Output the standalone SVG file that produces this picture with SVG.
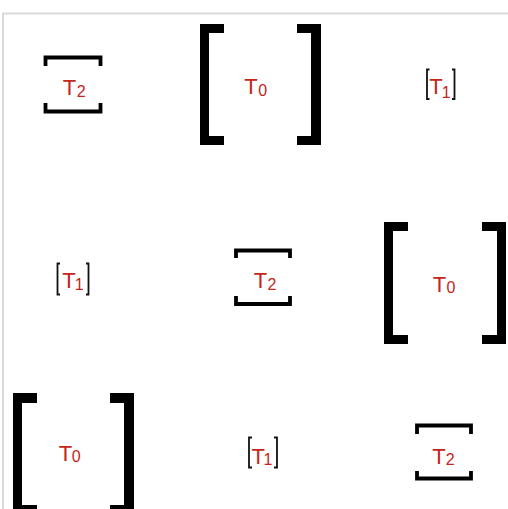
<svg xmlns="http://www.w3.org/2000/svg" width="508" height="509" viewBox="0 0 508 509">
  <style>
    .t { font-family: "Liberation Sans", Arial, sans-serif; font-size: 22px; fill: #c4261a; }
    .s { font-size: 16px; }
    .thin { fill: none; stroke: #111; stroke-width: 1.8; }
    .mid { fill: none; stroke: #000; stroke-width: 3.8; }
    .heavy { fill: #000; }
  </style>
  <rect width="508" height="509" fill="#fff"/>
  <!-- frame -->
  <path d="M3,509 V13.5 H508" fill="none" stroke="#d9d9d9" stroke-width="2"/>

  <!-- row 1 -->
  <g id="node-r1c1">
    <path class="mid" d="M45.5,66 V57.5 H100.5 V66"/>
    <path class="mid" d="M45.5,103 V111.5 H100.5 V103"/>
    <text class="t" x="62.8" y="94.5">T<tspan class="s" dx="0.5" dy="2.5">2</tspan></text>
  </g>
  <g id="node-r1c2">
    <path class="heavy" d="M200,24 H224 V33 H209 V136 H224 V145 H200 Z"/>
    <path class="heavy" d="M321,24 H297 V33 H311 V136 H297 V145 H321 Z"/>
    <text class="t" x="244.2" y="94.3">T<tspan class="s" dx="0.5" dy="1.2">0</tspan></text>
  </g>
  <g id="node-r1c3">
    <path class="thin" d="M429.5,69.5 H427 V99 H429.5"/>
    <path class="thin" d="M452,69.5 H454.5 V99 H452"/>
    <text class="t" x="429.3" y="94.3">T<tspan class="s" dx="-1" dy="4">1</tspan></text>
  </g>

  <!-- row 2 -->
  <g id="node-r2c1">
    <path class="thin" d="M60,263.5 H57.5 V294.5 H60"/>
    <path class="thin" d="M86,263.5 H88.5 V294.5 H86"/>
    <text class="t" x="62.2" y="288.3">T<tspan class="s" dx="-0.8" dy="1.5">1</tspan></text>
  </g>
  <g id="node-r2c2">
    <path class="mid" d="M236,258 V250.5 H290 V258"/>
    <path class="mid" d="M236,296 V304 H290 V296"/>
    <text class="t" x="253.8" y="288.3">T<tspan class="s" dx="0.2" dy="1.2">2</tspan></text>
  </g>
  <g id="node-r2c3">
    <path class="heavy" d="M384,222 H408 V231 H393 V335 H408 V344 H384 Z"/>
    <path class="heavy" d="M506,222 H482 V231 H497 V335 H482 V344 H506 Z"/>
    <text class="t" x="432.8" y="291.7">T<tspan class="s" dx="0.3" dy="0.8">0</tspan></text>
  </g>

  <!-- row 3 -->
  <g id="node-r3c1">
    <path class="heavy" d="M13,393 H37 V403 H22 V505 H37 V514 H13 Z"/>
    <path class="heavy" d="M134,393 H110 V403 H124 V505 H110 V514 H134 Z"/>
    <text class="t" x="58.8" y="461">T<tspan class="s" dx="-0.5" dy="1.3">0</tspan></text>
  </g>
  <g id="node-r3c2">
    <path class="thin" d="M252,437.5 H249 V467.5 H252"/>
    <path class="thin" d="M274,437.5 H277 V467.5 H274"/>
    <text class="t" x="251.5" y="464">T<tspan class="s" dx="-1.5" dy="1">1</tspan></text>
  </g>
  <g id="node-r3c3">
    <path class="mid" d="M417,434 V425.5 H471 V434"/>
    <path class="mid" d="M417,471 V478.5 H471 V471"/>
    <text class="t" x="432.2" y="464.3">T<tspan class="s" dx="0.2" dy="0.7">2</tspan></text>
  </g>
</svg>
